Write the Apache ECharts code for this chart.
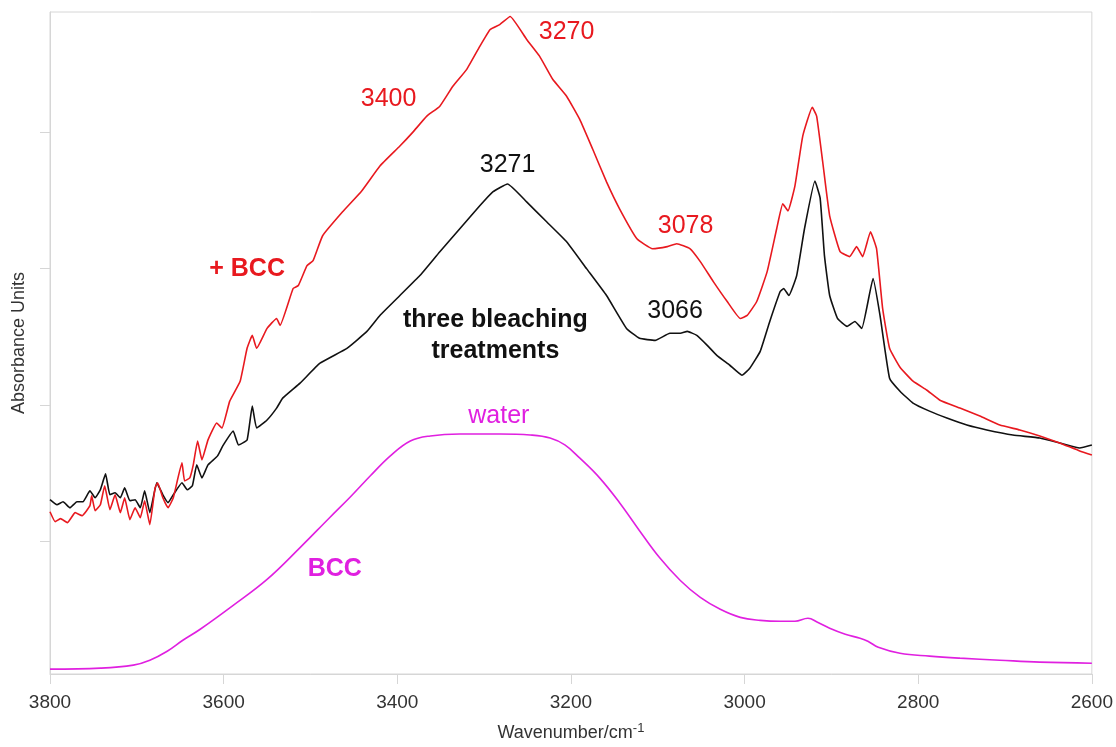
<!DOCTYPE html>
<html>
<head>
<meta charset="utf-8">
<title>FTIR spectra</title>
<script src="https://cdn.jsdelivr.net/npm/echarts@6/dist/echarts.min.js"></script>
<style>
  html, body { margin: 0; padding: 0; background: #fff; }
  #chart { width: 1116px; height: 747px; }
</style>
</head>
<body>
<div id="chart"></div>
<script>
// [wavenumber cm-1, absorbance (a.u.)]
const bleached = [
  [3800,1.307],[3792,1.270],[3785,1.292],[3777,1.248],[3769,1.292],[3762,1.292],[3754,1.372],[3748,1.321],
  [3742,1.380],[3736,1.496],[3731,1.343],[3725,1.358],[3719,1.321],[3714,1.394],[3708,1.299],[3702,1.307],
  [3696,1.248],[3691,1.372],[3685,1.212],[3677,1.431],[3670,1.343],[3664,1.285],[3658,1.343],[3648,1.431],
  [3642,1.380],[3636,1.409],[3631,1.562],[3625,1.467],[3618,1.562],[3607,1.628],[3601,1.701],[3589,1.810],
  [3583,1.708],[3573,1.745],[3567,1.993],[3562,1.832],[3550,1.891],[3539,1.978],[3532,2.051],[3512,2.161],
  [3489,2.307],[3458,2.416],[3435,2.540],[3420,2.657],[3397,2.803],[3374,2.949],[3351,3.124],[3328,3.292],
  [3305,3.460],[3290,3.562],[3273,3.620],[3251,3.489],[3228,3.343],[3205,3.197],[3182,3.000],[3159,2.803],
  [3136,2.562],[3121,2.489],[3103,2.474],[3086,2.526],[3074,2.526],[3066,2.540],[3055,2.511],[3043,2.438],
  [3032,2.365],[3017,2.292],[3003,2.219],[2994,2.270],[2982,2.394],[2971,2.613],[2959,2.832],[2955,2.854],
  [2949,2.803],[2940,2.949],[2931,3.292],[2919,3.642],[2913,3.518],[2908,3.095],[2902,2.803],[2893,2.635],
  [2882,2.577],[2873,2.613],[2865,2.562],[2852,2.927],[2844,2.657],[2833,2.197],[2821,2.102],[2806,2.015],
  [2787,1.956],[2767,1.905],[2744,1.854],[2721,1.818],[2691,1.781],[2660,1.759],[2637,1.723],[2614,1.686],
  [2600,1.708]
];

const withBCC = [
  [3800,1.219],[3794,1.146],[3788,1.168],[3780,1.139],[3771,1.212],[3763,1.190],[3754,1.263],[3752,1.336],
  [3748,1.226],[3742,1.270],[3737,1.409],[3731,1.234],[3725,1.343],[3719,1.212],[3714,1.321],[3708,1.161],
  [3702,1.248],[3696,1.175],[3691,1.299],[3685,1.124],[3679,1.394],[3676,1.431],[3670,1.321],[3664,1.248],
  [3658,1.321],[3648,1.577],[3645,1.445],[3639,1.467],[3635,1.562],[3630,1.737],[3625,1.599],[3618,1.745],
  [3608,1.869],[3602,1.832],[3593,2.029],[3581,2.175],[3573,2.416],[3567,2.511],[3562,2.416],[3550,2.562],
  [3539,2.635],[3535,2.584],[3520,2.854],[3514,2.876],[3504,3.022],[3497,3.058],[3486,3.241],[3463,3.416],
  [3441,3.569],[3420,3.752],[3397,3.898],[3382,4.000],[3366,4.117],[3351,4.190],[3336,4.336],[3320,4.460],
  [3305,4.628],[3293,4.752],[3282,4.788],[3270,4.847],[3251,4.679],[3236,4.555],[3221,4.387],[3205,4.263],
  [3190,4.095],[3175,3.876],[3159,3.635],[3144,3.438],[3124,3.219],[3106,3.146],[3089,3.161],[3078,3.182],
  [3063,3.146],[3051,3.051],[3036,2.905],[3020,2.759],[3005,2.635],[2997,2.657],[2986,2.759],[2974,2.978],
  [2963,3.292],[2956,3.474],[2950,3.423],[2942,3.606],[2933,3.971],[2922,4.182],[2917,4.117],[2910,3.781],
  [2902,3.387],[2890,3.124],[2879,3.088],[2871,3.161],[2864,3.088],[2855,3.270],[2848,3.146],[2841,2.708],
  [2833,2.416],[2821,2.277],[2806,2.175],[2790,2.109],[2775,2.036],[2752,1.978],[2729,1.920],[2706,1.854],
  [2683,1.818],[2660,1.774],[2637,1.723],[2614,1.664],[2600,1.635]
];

const water = [
  [3800,0.066],[3742,0.073],[3704,0.095],[3685,0.131],[3665,0.197],[3647,0.277],[3627,0.358],[3589,0.533],
  [3550,0.723],[3512,0.956],[3478,1.175],[3455,1.321],[3431,1.482],[3408,1.628],[3385,1.737],[3362,1.774],
  [3328,1.788],[3282,1.788],[3247,1.781],[3224,1.759],[3207,1.708],[3190,1.613],[3167,1.467],[3144,1.285],
  [3121,1.080],[3098,0.883],[3074,0.715],[3051,0.591],[3028,0.504],[3005,0.445],[2982,0.423],[2959,0.416],
  [2942,0.416],[2927,0.438],[2916,0.409],[2902,0.365],[2884,0.321],[2867,0.292],[2858,0.270],[2846,0.226],
  [2821,0.182],[2787,0.161],[2752,0.146],[2706,0.131],[2660,0.117],[2600,0.109]
];

// annotations: text, wavenumber, absorbance, colour, bold
const notes = [
  ['3270', 3205, 4.73, '#e8191f', false],
  ['3400', 3410, 4.24, '#e8191f', false],
  ['+ BCC', 3573, 3.00, '#e8191f', true],
  ['3271', 3273, 3.76, '#111111', false],
  ['three bleaching\ntreatments', 3287, 2.51, '#111111', true],
  ['3078', 3068, 3.31, '#e8191f', false],
  ['3066', 3080, 2.69, '#111111', false],
  ['water', 3283, 1.92, '#e020e0', false],
  ['BCC', 3472, 0.80, '#e020e0', true]
];

const yTicks = [1, 2, 3, 4];

const chart = echarts.init(document.getElementById('chart'));
const font = '"Liberation Sans", Arial, sans-serif';

chart.setOption({
  animation: false,
  grid: { left: 50, right: 24, top: 12, bottom: 70, show: true, borderColor: '#d6d6d6', borderWidth: 1 },
  xAxis: {
    type: 'value', inverse: true, min: 2600, max: 3800, interval: 200,
    name: 'Wavenumber/cm{sup|-1}', nameLocation: 'middle', nameGap: 48,
    nameTextStyle: {
      color: '#333', fontSize: 18, fontFamily: font,
      rich: { sup: { fontSize: 13, color: '#333', fontFamily: font, padding: [0, 0, 9, 0] } }
    },
    axisLine: { lineStyle: { color: '#d6d6d6' } },
    axisTick: { length: 10, lineStyle: { color: '#d6d6d6' } },
    axisLabel: { color: '#333', fontSize: 19, fontFamily: font, margin: 19, formatter: v => String(v) },
    splitLine: { show: false }
  },
  yAxis: {
    type: 'value', min: 0.03, max: 4.88,
    name: 'Absorbance Units', nameLocation: 'middle', nameGap: 22,
    nameTextStyle: { color: '#333', fontSize: 18, fontFamily: font },
    axisLine: { show: true, lineStyle: { color: '#d6d6d6' } },
    axisTick: { show: true, length: 10, customValues: yTicks, lineStyle: { color: '#d6d6d6' } },
    axisLabel: { show: false },
    splitLine: { show: false }
  },
  series: [
    {
      name: 'water (BCC)', type: 'line', data: water, showSymbol: false, smooth: 0.4,
      lineStyle: { color: '#e020e0', width: 1.6 }, z: 2
    },
    {
      name: 'three bleaching treatments', type: 'line', data: bleached, showSymbol: false, smooth: 0.12,
      lineStyle: { color: '#111111', width: 1.6 }, z: 3
    },
    {
      name: '+ BCC', type: 'line', data: withBCC, showSymbol: false, smooth: 0.12,
      lineStyle: { color: '#e8191f', width: 1.6 }, z: 4
    },
    {
      type: 'scatter', symbolSize: 0, silent: true, z: 5,
      itemStyle: { opacity: 1 },
      data: notes.map(n => ({
        value: [n[1], n[2]],
        label: {
          show: true, position: 'inside', formatter: n[0], color: n[3],
          textBorderWidth: 0, fontSize: 25, fontWeight: n[4] ? 'bold' : 'normal',
          fontFamily: font, lineHeight: 31, align: 'center'
        }
      }))
    }
  ]
});

window.addEventListener('resize', () => chart.resize());
</script>
</body>
</html>
